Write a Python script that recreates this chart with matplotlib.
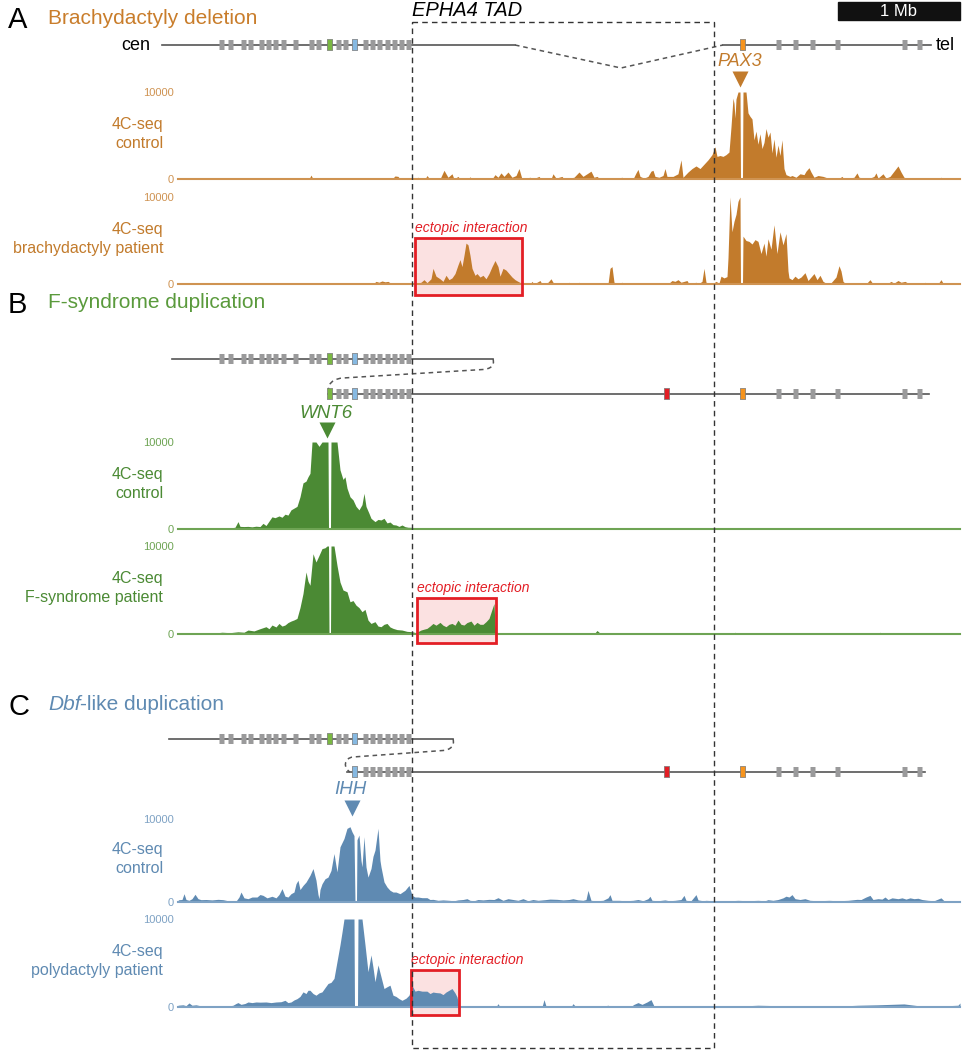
import matplotlib
matplotlib.use('Agg')
import matplotlib.pyplot as plt
from matplotlib.patches import Rectangle, PathPatch
from matplotlib.path import Path
import numpy as np

plt.rcParams['font.family'] = ['Liberation Sans', 'DejaVu Sans']

# ========= Datos: lecturas 4C-seq por bin (1 bin ~ 8.2 kb), recortadas a 10000 ========= #

a_control = [(0, 0), (15, 0), (17, 150), (19, 0), (72, 0), (73, 120), (75, 0), (131, 0), (133, 450), (135, 0),
             (165, 0), (166, 100), (168, 0), (196, 0), (197, 100), (199, 0), (214, 0), (217, 350), (220, 300),
             (222, 0), (236, 0), (240, 200), (242, 0), (247, 0), (249, 400), (251, 100), (256, 0), (262, 0),
             (266, 1000), (270, 200), (274, 600), (276, 0), (280, 300), (282, 0), (290, 0), (292, 250), (294, 0),
             (314, 0), (317, 500), (320, 200), (323, 700), (326, 300), (330, 800), (334, 200), (338, 400),
             (341, 1200), (344, 0), (352, 200), (355, 0), (361, 300), (363, 0), (373, 0), (375, 600), (378, 100),
             (384, 300), (386, 0), (396, 200), (401, 800), (405, 300), (409, 600), (413, 900), (416, 200),
             (419, 300), (422, 0), (430, 100), (436, 0), (444, 200), (446, 0), (455, 0), (458, 700), (460, 1100),
             (462, 300), (466, 100), (470, 300), (473, 900), (475, 1000), (477, 300), (481, 200), (485, 400),
             (487, 1200), (489, 300), (495, 300), (500, 600), (503, 2200), (505, 200), (510, 800), (514, 1200),
             (518, 1500), (522, 1200), (526, 1700), (530, 2200), (534, 2800), (537, 3700), (539, 2600),
             (542, 2700), (545, 2600), (548, 2800), (551, 3100), (553, 6000), (555, 9300), (556, 8700),
             (557, 7000), (558, 9200), (560, 10000), (562, 10000), (562.5, 0), (564.5, 0), (565, 10000),
             (568, 10000), (570, 7600), (572, 7200), (574, 6900), (576, 4500), (578, 5500), (580, 4000),
             (582, 5200), (584, 3500), (586, 4200), (588, 5800), (590, 4800), (592, 5400), (594, 3000),
             (596, 4600), (598, 2500), (600, 3900), (602, 2700), (604, 4500), (606, 1200), (608, 500),
             (612, 300), (614, 400), (618, 200), (622, 600), (626, 500), (628, 900), (631, 1300), (633, 800),
             (636, 200), (640, 400), (645, 300), (650, 100), (660, 0), (664, 300), (666, 0), (676, 200),
             (679, 700), (681, 200), (690, 0), (696, 300), (698, 700), (700, 100), (705, 600), (708, 100),
             (712, 300), (716, 900), (720, 1500), (723, 800), (726, 200), (730, 0), (760, 0), (763, 200),
             (766, 0), (780, 0), (782, 100)]

a_patient = [(0, 0), (100, 0), (102, 150), (106, 100), (108, 0), (195, 0), (198, 300), (201, 200), (204, 350),
             (207, 250), (210, 300), (214, 0), (236, 0), (243, 200), (246, 500), (249, 150), (253, 600),
             (255, 1800), (258, 900), (262, 600), (265, 300), (268, 1000), (271, 500), (274, 700), (277, 1200),
             (280, 2200), (282, 2800), (284, 2000), (286, 3300), (288, 4700), (290, 4500), (292, 3300),
             (294, 1800), (297, 1000), (299, 1200), (302, 800), (305, 1000), (308, 600), (311, 1200),
             (314, 2000), (317, 2700), (320, 2000), (322, 900), (325, 1800), (328, 1600), (331, 1200),
             (334, 800), (337, 500), (340, 300), (345, 0), (352, 0), (354, 300), (356, 0), (362, 400), (364, 0),
             (370, 200), (373, 600), (376, 0), (389, 0), (391, 200), (393, 0), (399, 0), (401, 200), (403, 0),
             (430, 0), (432, 1800), (434, 2000), (436, 200), (440, 0), (444, 200), (446, 0), (490, 0),
             (494, 400), (497, 300), (500, 500), (503, 200), (509, 400), (511, 0), (518, 200), (520, 0),
             (524, 300), (526, 1800), (528, 200), (534, 0), (538, 300), (541, 100), (543, 900), (546, 700),
             (549, 850), (550, 3000), (552, 10000), (554, 6000), (556, 7200), (558, 8000), (560, 9500),
             (562, 10000), (562.5, 0), (564.5, 0), (565, 5500), (568, 5000), (571, 4900), (574, 4600),
             (577, 5100), (580, 4900), (583, 3500), (586, 4700), (588, 3200), (590, 5200), (593, 4000),
             (596, 6800), (599, 3500), (602, 6000), (605, 4500), (608, 5800), (610, 1500), (611, 700),
             (614, 500), (617, 900), (620, 600), (623, 800), (627, 1300), (630, 400), (633, 800), (636, 1200),
             (639, 500), (642, 1000), (645, 300), (648, 100), (652, 0), (658, 800), (661, 2100), (663, 1500),
             (665, 300), (668, 0), (688, 0), (692, 500), (695, 0), (709, 0), (713, 300), (716, 100), (720, 400),
             (723, 200), (727, 300), (730, 100), (735, 0), (745, 0), (747, 200), (749, 0), (760, 0), (763, 500),
             (765, 100), (770, 0), (782, 0)]

b_control = [(0, 0), (3, 100), (8, 50), (15, 120), (22, 80), (30, 150), (38, 100), (45, 160), (52, 120),
             (57, 200), (60, 850), (62, 300), (66, 280), (70, 300), (74, 250), (78, 320), (82, 280), (85, 650),
             (88, 400), (91, 900), (94, 1400), (97, 1300), (101, 1500), (104, 1350), (107, 1700), (110, 1600),
             (113, 2200), (116, 2400), (119, 2600), (122, 3700), (125, 5300), (128, 5500), (130, 6000),
             (132, 6400), (134, 10000), (138, 10000), (141, 9500), (144, 10000), (150, 10000), (150.5, 0),
             (152.5, 0), (153, 10000), (159, 10000), (162, 6800), (165, 5700), (167, 6000), (169, 4700),
             (172, 3700), (175, 3350), (178, 2600), (181, 2200), (184, 2800), (186, 4100), (188, 2600),
             (191, 1800), (193, 1230), (197, 850), (200, 1100), (203, 1040), (206, 1230), (209, 700),
             (212, 800), (215, 500), (218, 460), (221, 300), (224, 460), (227, 270), (230, 200), (234, 190),
             (236, 50), (240, 0), (245, 100), (250, 0), (258, 80), (262, 0), (300, 0), (302, 60), (304, 0),
             (400, 0), (402, 60), (404, 0), (590, 0), (592, 60), (594, 0), (640, 0), (642, 50), (644, 0),
             (700, 0), (702, 60), (704, 0), (782, 0)]

b_patient = [(0, 0), (5, 100), (12, 150), (20, 80), (28, 150), (36, 100), (44, 200), (52, 150), (60, 250),
             (66, 200), (70, 450), (76, 350), (82, 600), (88, 830), (91, 600), (94, 1020), (98, 800),
             (101, 1200), (104, 900), (107, 1020), (110, 1300), (113, 1470), (116, 1600), (119, 1770),
             (122, 3000), (125, 4600), (128, 7050), (130, 6000), (132, 5540), (135, 9120), (138, 8180),
             (141, 8930), (144, 9700), (147, 9800), (149, 10000), (150.5, 10000), (151, 0), (152.5, 0),
             (153, 10000), (156, 10000), (159, 7800), (162, 5900), (165, 5000), (169, 4800), (172, 3660),
             (175, 3800), (178, 3280), (181, 3000), (184, 2530), (187, 2800), (190, 1580), (193, 1200),
             (197, 1400), (200, 900), (203, 830), (206, 1100), (209, 1200), (212, 800), (215, 640), (219, 500),
             (224, 450), (229, 300), (234, 260), (238, 150), (243, 450), (246, 550), (249, 640), (252, 900),
             (255, 1200), (258, 1000), (262, 1320), (265, 1000), (268, 830), (271, 1100), (274, 1200),
             (277, 1000), (280, 1580), (283, 1100), (286, 1020), (289, 1300), (293, 1470), (296, 1000),
             (299, 1320), (302, 1100), (305, 1100), (308, 1400), (311, 1770), (314, 2800), (316, 3470),
             (317, 1000), (318, 260), (320, 100), (324, 0), (340, 0), (342, 80), (344, 0), (360, 0), (362, 60),
             (364, 0), (416, 0), (419, 400), (422, 100), (425, 0), (440, 0), (442, 80), (444, 0), (495, 0),
             (497, 150), (499, 0), (555, 0), (557, 200), (559, 0), (620, 0), (622, 100), (624, 0), (700, 0),
             (702, 200), (704, 0), (782, 0)]

c_control = [(0, 200), (1, 280), (4, 300), (6, 1000), (8, 300), (11, 200), (14, 400), (17, 930), (20, 400),
             (23, 280), (28, 300), (34, 250), (40, 320), (45, 280), (50, 150), (54, 0), (58, 100), (61, 600),
             (63, 1200), (66, 500), (70, 400), (74, 600), (79, 600), (82, 900), (85, 800), (89, 500), (94, 690),
             (98, 500), (101, 900), (104, 1610), (107, 700), (110, 600), (113, 1000), (116, 1200), (118, 2200),
             (120, 2620), (122, 1500), (125, 2000), (128, 2400), (132, 3220), (135, 4030), (138, 2620),
             (140, 900), (141, 400), (142, 1500), (144, 2200), (147, 2800), (150, 3000), (153, 3800),
             (156, 5840), (159, 3630), (162, 6650), (166, 7650), (169, 8870), (172, 9070), (174, 8460),
             (176, 8000), (177, 0), (178.5, 0), (179, 7500), (181, 8060), (183, 5000), (184, 4230), (186, 7860),
             (188, 4230), (190, 3000), (193, 4030), (195, 5500), (197, 6250), (200, 8870), (202, 5000),
             (203, 4230), (206, 2420), (209, 1810), (212, 1410), (215, 1200), (218, 1200), (222, 1000),
             (227, 1410), (231, 2000), (234, 800), (237, 600), (240, 600), (244, 520), (249, 520), (252, 300),
             (255, 320), (260, 200), (265, 250), (271, 200), (276, 150), (280, 250), (285, 300), (289, 400),
             (292, 200), (296, 150), (300, 300), (305, 250), (311, 320), (316, 300), (320, 520), (325, 200),
             (330, 400), (335, 300), (340, 200), (345, 400), (350, 150), (355, 300), (360, 200), (367, 280),
             (372, 350), (379, 320), (385, 250), (391, 300), (395, 400), (400, 250), (405, 200), (408, 300),
             (410, 1400), (412, 600), (413, 200), (418, 150), (425, 200), (430, 500), (432, 890), (434, 200),
             (441, 200), (447, 150), (455, 200), (460, 300), (465, 150), (470, 400), (472, 690), (474, 200),
             (480, 150), (487, 250), (491, 150), (497, 200), (503, 300), (506, 800), (508, 200), (513, 150),
             (518, 890), (520, 250), (525, 150), (528, 200), (535, 150), (545, 100), (552, 150), (560, 200),
             (570, 150), (580, 200), (587, 150), (590, 280), (595, 200), (600, 300), (605, 500), (608, 700),
             (611, 600), (614, 890), (617, 400), (622, 300), (627, 400), (632, 200), (640, 150), (651, 200),
             (660, 150), (670, 200), (679, 320), (683, 300), (688, 600), (692, 800), (695, 300), (700, 400),
             (704, 350), (707, 600), (710, 300), (714, 500), (720, 400), (724, 500), (728, 350), (732, 500),
             (736, 400), (740, 450), (744, 300), (750, 200), (756, 150), (763, 500), (766, 150), (769, 0),
             (775, 0), (782, 100)]

c_patient = [(0, 200), (5, 250), (8, 150), (11, 460), (14, 200), (18, 250), (22, 150), (26, 110), (35, 100),
             (45, 110), (51, 110), (55, 200), (58, 400), (60, 500), (63, 300), (67, 400), (70, 570), (74, 500),
             (78, 570), (82, 550), (88, 570), (93, 500), (98, 570), (103, 600), (107, 760), (110, 500),
             (113, 570), (116, 800), (119, 950), (122, 1200), (125, 1720), (128, 1530), (130, 1900),
             (132, 1900), (135, 1530), (138, 1340), (141, 1600), (144, 1720), (147, 2200), (150, 2670),
             (153, 2800), (156, 3250), (159, 5160), (162, 7070), (164, 8500), (166, 10000), (176, 10000),
             (176.5, 0), (179.5, 0), (180, 10000), (184, 10000), (187, 7070), (190, 4010), (193, 5920),
             (195, 4500), (197, 2870), (200, 4780), (203, 3440), (206, 2100), (209, 2300), (212, 2480),
             (215, 1340), (218, 1200), (221, 950), (224, 760), (228, 1000), (231, 1340), (234, 2480),
             (237, 1800), (240, 1900), (244, 1800), (249, 1800), (252, 1530), (255, 1700), (258, 1640),
             (262, 1600), (265, 1410), (268, 1700), (271, 1900), (274, 2100), (277, 1600), (279, 1150),
             (281, 110), (284, 0), (318, 0), (320, 380), (322, 0), (340, 0), (344, 100), (348, 0), (364, 0),
             (366, 840), (368, 100), (373, 0), (393, 0), (395, 380), (398, 0), (420, 0), (430, 200), (435, 0),
             (452, 0), (456, 300), (460, 500), (464, 300), (469, 570), (473, 840), (476, 100), (480, 0),
             (500, 50), (520, 150), (530, 100), (545, 150), (560, 100), (580, 200), (600, 150), (620, 100),
             (640, 150), (660, 100), (680, 200), (700, 250), (726, 350), (740, 150), (760, 100), (780, 200),
             (782, 460)]

# genes (bin positions)
genes_left = [44, 53, 66, 73, 84, 91, 98, 106, 118, 134, 141, 161, 168, 188, 195, 202, 210, 217, 224, 231]
genes_right = [601, 618, 635, 660, 727, 742]
wnt6 = 152
ihh = 177
epha4 = 489
pax3 = 565
tad = (234, 536)
bins_per_mb = 122

# ========= Graficos ========= #

W, H = 966, 1050
fig = plt.figure(figsize=(W / 100, H / 100), dpi=100)

def overlay(z):
    ax = fig.add_axes([0, 0, 1, 1], zorder=z)
    ax.set_xlim(-178, W - 178)
    ax.set_ylim(H, 0)
    ax.axis('off')
    ax.patch.set_alpha(0)
    return ax

ax_bg = overlay(0)
ax = overlay(2)

GRAY_LINE = '#555555'
GENE_GRAY = '#9a9a9b'

def track(top, base, data, color, light, label):
    t = fig.add_axes([178 / W, 1 - base / H, 782 / W, (base - top) / H], zorder=1)
    t.patch.set_alpha(0)
    pos, val = np.array(data).T
    t.fill_between(pos, val, color=color, lw=0)
    t.axhline(0, color=light, lw=1.5, clip_on=False)
    t.set_xlim(0, 782)
    t.set_ylim(0, 10000)
    for s in t.spines.values():
        s.set_visible(False)
    t.set_xticks([])
    t.set_yticks([0, 10000])
    t.set_yticklabels(['0', '10000'], color=light, fontsize=8)
    t.tick_params(length=0, pad=3)
    t.text(-0.019, 0.52, label, transform=t.transAxes, ha='right', va='center',
           fontsize=11.5, color=color, linespacing=1.35)

def chrom(y, x0, x1, grays, colored=()):
    ax.plot([x0, x1], [y, y], color=GRAY_LINE, lw=1.2, zorder=1)
    for g in grays:
        ax.add_patch(Rectangle((g - 2.5, y - 5), 5.0, 10, color=GENE_GRAY, lw=0, zorder=2, snap=False))
    for g, c in colored:
        ax.add_patch(Rectangle((g - 2.6, y - 5.5), 5.2, 11, facecolor=c, edgecolor='#777777', lw=0.5,
                               zorder=2, snap=False))

def curl(verts):
    codes = [Path.MOVETO, Path.CURVE4, Path.CURVE4, Path.CURVE4, Path.LINETO, Path.CURVE4, Path.CURVE4, Path.CURVE4]
    ax.add_patch(PathPatch(Path(verts, codes), fill=False, ec=GRAY_LINE, lw=1.1, ls=(0, (3, 2.5))))

def ectopic(x0, x1, y0, y1):
    ax_bg.add_patch(Rectangle((x0, y0), x1 - x0, y1 - y0, facecolor='#fbe1e1', lw=0))
    ax.add_patch(Rectangle((x0, y0), x1 - x0, y1 - y0, fill=False, ec='#e31e25', lw=2))
    ax.text(x0, y0 - 3, 'ectopic interaction', color='#e31e25', fontsize=10, style='italic',
            ha='left', va='bottom')

GREEN_G, BLUE_G, RED_G, ORANGE_G = '#7ab842', '#86b9e2', '#e31e25', '#f7941d'
ORANGE, ORANGE_L = '#c27b2c', '#cf9352'
GREEN, GREEN_L = '#4b8a34', '#6ea454'
BLUE, BLUE_L = '#5f8ab2', '#7ea2c4'

# ---- A ----
ax.text(-170, 20, 'A', fontsize=21, va='center', ha='left')
ax.text(-130, 18, 'Brachydactyly deletion', fontsize=15, color='#c97d2b', va='center', ha='left')
ax.text(-28, 45, 'cen', fontsize=13, ha='right', va='center')
ax.text(758, 45, 'tel', fontsize=13, ha='left', va='center')
chrom(45, -16, 337, genes_left, [(wnt6, GREEN_G), (ihh, BLUE_G)])
ax.plot([337, 443, 545], [45, 68, 45], color=GRAY_LINE, lw=1.1, ls=(0, (3, 2.5)))
chrom(45, 545, 753, genes_right, [(pax3, ORANGE_G)])
ax.text(562, 61, 'PAX3', fontsize=13, style='italic', color=ORANGE, ha='center', va='center')
ax.plot(562, 79, marker='v', ms=11, color=ORANGE, mec='none')
track(92, 179, a_control, ORANGE, ORANGE_L, '4C-seq\ncontrol')
track(197, 284, a_patient, ORANGE, ORANGE_L, '4C-seq\nbrachydactyly patient')
ectopic(237, 344, 238, 295)

# ---- B ----
ax.text(-170, 305, 'B', fontsize=21, va='center', ha='left')
ax.text(-130, 303, 'F-syndrome duplication', fontsize=15, color='#5a9a3c', va='center', ha='left')
chrom(359, -6, 315, genes_left, [(wnt6, GREEN_G), (ihh, BLUE_G)])
curl([(315, 359), (317, 366), (312, 369), (305, 369.5), (165, 378), (150, 379), (148, 390), (153, 394)])
chrom(394, 150, 751, [g for g in genes_left if g > wnt6] + genes_right,
      [(wnt6, GREEN_G), (ihh, BLUE_G), (epha4, RED_G), (pax3, ORANGE_G)])
ax.text(148, 413, 'WNT6', fontsize=13.5, style='italic', color=GREEN, ha='center', va='center')
ax.plot(149, 430, marker='v', ms=11, color=GREEN, mec='none')
track(442, 529, b_control, GREEN, GREEN_L, '4C-seq\ncontrol')
track(546, 634, b_patient, GREEN, GREEN_L, '4C-seq\nF-syndrome patient')
ectopic(239, 318, 598, 643)

# ---- C ----
ax.text(-170, 707, 'C', fontsize=21, va='center', ha='left')
t1 = ax.text(-130, 705, 'Dbf', fontsize=15, color=BLUE, style='italic', va='center', ha='left')
ax.annotate('-like duplication', xy=(1, 0), xycoords=t1, fontsize=15, color=BLUE, va='bottom', ha='left')
chrom(739, -9, 275, genes_left, [(wnt6, GREEN_G), (ihh, BLUE_G)])
curl([(275, 739), (277, 746), (272, 750), (265, 750.5), (175, 757), (166, 758), (165, 768), (172, 772)])
chrom(772, 169, 747, [g for g in genes_left if g > ihh] + genes_right,
      [(ihh, BLUE_G), (epha4, RED_G), (pax3, ORANGE_G)])
ax.text(172, 790, 'IHH', fontsize=13.5, style='italic', color=BLUE, ha='center', va='center')
ax.plot(174, 808, marker='v', ms=11, color=BLUE, mec='none')
track(819, 902, c_control, BLUE, BLUE_L, '4C-seq\ncontrol')
track(919, 1007, c_patient, BLUE, BLUE_L, '4C-seq\npolydactyly patient')
ectopic(233, 281, 970, 1015)

# ---- EPHA4 TAD y escala ----
ax.add_patch(Rectangle((tad[0], 22), tad[1] - tad[0], 1026, fill=False, ec='#333333', lw=1,
                       ls=(0, (4, 3)), zorder=5))
ax.text(tad[0], 10, 'EPHA4 TAD', fontsize=14.5, style='italic', ha='left', va='center')
ax.add_patch(Rectangle((782 - bins_per_mb, 2), bins_per_mb, 18, color='#111111'))
ax.text(782 - bins_per_mb / 2, 11, '1 Mb', color='white', fontsize=12, ha='center', va='center')

fig.savefig('out.png', dpi=100)
